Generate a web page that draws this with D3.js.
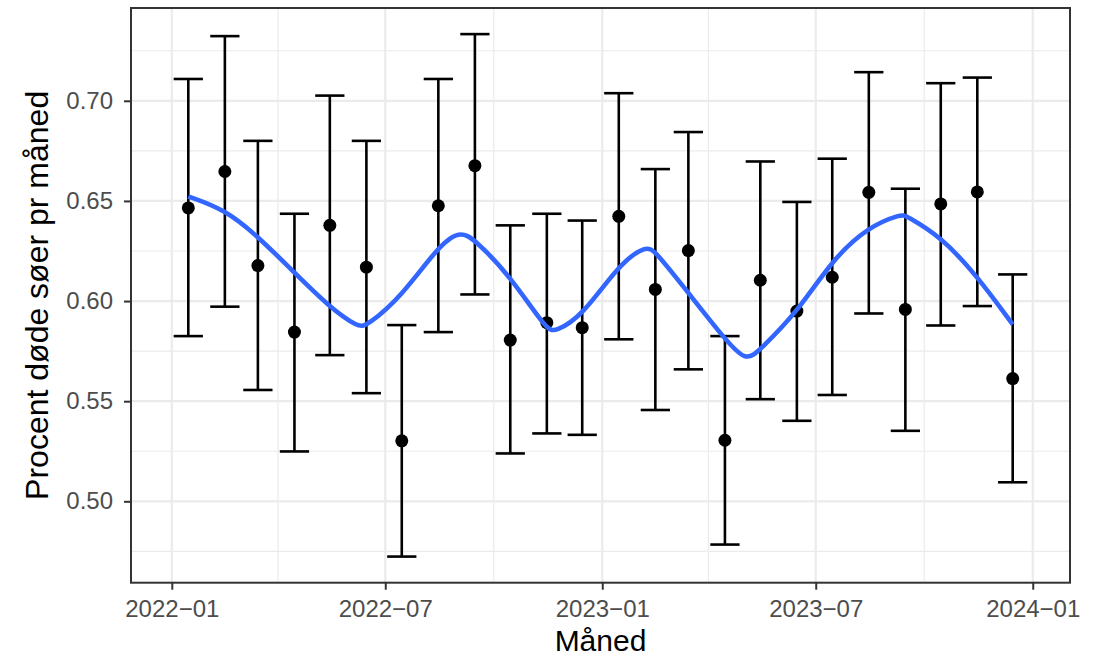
<!DOCTYPE html>
<html>
<head>
<meta charset="utf-8">
<script src="https://d3js.org/d3.v7.min.js"></script>
<style>
	body { margin: 0; background: #fff; }
	text { font-family: "Liberation Sans", Arial, Helvetica, sans-serif; }
</style>
</head>
<body>
<svg id="chart" width="1110" height="656"></svg>
<script>

// måneder (midt i måneden) og andel døde søer med konfidensinterval
var maaneder = ["2022-01-15","2022-02-15","2022-03-15","2022-04-15","2022-05-15","2022-06-15",
	"2022-07-15","2022-08-15","2022-09-15","2022-10-15","2022-11-15","2022-12-15",
	"2023-01-15","2023-02-15","2023-03-15","2023-04-15","2023-05-15","2023-06-15",
	"2023-07-15","2023-08-15","2023-09-15","2023-10-15","2023-11-15","2023-12-15"];
var andel = [0.6465, 0.6647, 0.6177, 0.5845, 0.6378, 0.6169, 0.5302, 0.6476, 0.6676, 0.5805, 0.5892, 0.5867,
	0.6423, 0.6058, 0.6252, 0.5305, 0.6104, 0.5950, 0.6119, 0.6543, 0.5958, 0.6485, 0.6545, 0.5613];
var nedre = [0.5825, 0.5972, 0.5556, 0.5249, 0.5730, 0.5540, 0.4724, 0.5845, 0.6033, 0.5239, 0.5339, 0.5332,
	0.5809, 0.5456, 0.5659, 0.4784, 0.5510, 0.5402, 0.5531, 0.5938, 0.5352, 0.5878, 0.5975, 0.5095];
var ovre = [0.7109, 0.7323, 0.6800, 0.6436, 0.7026, 0.6800, 0.5880, 0.7109, 0.7333, 0.6378, 0.6436, 0.6402,
	0.7038, 0.6659, 0.6844, 0.5825, 0.6697, 0.6495, 0.6711, 0.7143, 0.6561, 0.7088, 0.7116, 0.6133];

// glattet kurve (aflæst)
var glatDatoer = ["2022-01-15","2022-02-15","2022-03-15","2022-04-15","2022-05-15","2022-06-08","2022-06-15",
	"2022-07-15","2022-08-15","2022-09-02","2022-09-15","2022-10-15","2022-11-15","2022-11-22","2022-12-15",
	"2023-01-15","2023-02-07","2023-02-15","2023-03-15","2023-04-15","2023-05-03","2023-05-15","2023-06-15",
	"2023-07-15","2023-08-15","2023-09-12","2023-09-15","2023-10-15","2023-11-15","2023-12-15"];
var glatVaerdier = [0.6522, 0.6457, 0.6323, 0.6142, 0.5968, 0.5870, 0.5874,
	0.6024, 0.6274, 0.6352, 0.6307, 0.6124, 0.5855, 0.5846, 0.5925,
	0.6182, 0.6278, 0.6249, 0.6041, 0.5809, 0.5695, 0.5759, 0.5942,
	0.6207, 0.6373, 0.6434, 0.6427, 0.6323, 0.6124, 0.5883];

// akser
var xTickDatoer = ["2022-01-01","2022-07-01","2023-01-01","2023-07-01","2024-01-01"];
var xTickTekst = ["2022\u221201","2022\u221207","2023\u221201","2023\u221207","2024\u221201"];
var xMinorDatoer = ["2022-04-01","2022-10-01","2023-04-01","2023-10-01"];
var yTicks = [0.50, 0.55, 0.60, 0.65, 0.70];
var yMinor = [0.475, 0.525, 0.575, 0.625, 0.675, 0.725];

var parse = d3.timeParse("%Y-%m-%d");
var data = maaneder.map(function(d, i){
	return {dato: parse(d), p: andel[i], lo: nedre[i], hi: ovre[i]};
});
var glat = glatDatoer.map(function(d, i){ return {dato: parse(d), p: glatVaerdier[i]}; });

var svg = d3.select("#chart");
var panel = {left: 131, right: 1070, top: 8, bottom: 582.7};

// errorbar halv bredde i dage, og 5% udvidelse som i ggplot
var halv = 12.4 * 864e5;
var xLo = +data[0].dato - halv, xHi = +data[data.length-1].dato + halv;
var xPad = (xHi - xLo) * 0.05;
var xScale = d3.scaleTime()
	.domain([new Date(xLo - xPad), new Date(xHi + xPad)])
	.range([panel.left, panel.right]);

var yLo = d3.min(nedre), yHi = d3.max(ovre), yPad = (yHi - yLo) * 0.05;
var yScale = d3.scaleLinear()
	.domain([yLo - yPad, yHi + yPad])
	.range([panel.bottom, panel.top]);

// gitter
var grid = svg.append("g");
grid.selectAll(".ymin").data(yMinor).enter().append("line")
	.attr("x1", panel.left).attr("x2", panel.right)
	.attr("y1", d => yScale(d)).attr("y2", d => yScale(d))
	.attr("stroke", "#ebebeb").attr("stroke-width", 1.2);
grid.selectAll(".xmin").data(xMinorDatoer).enter().append("line")
	.attr("x1", d => xScale(parse(d))).attr("x2", d => xScale(parse(d)))
	.attr("y1", panel.top).attr("y2", panel.bottom)
	.attr("stroke", "#ebebeb").attr("stroke-width", 1.2);
grid.selectAll(".ymaj").data(yTicks).enter().append("line")
	.attr("x1", panel.left).attr("x2", panel.right)
	.attr("y1", d => yScale(d)).attr("y2", d => yScale(d))
	.attr("stroke", "#ebebeb").attr("stroke-width", 2.2);
grid.selectAll(".xmaj").data(xTickDatoer).enter().append("line")
	.attr("x1", d => xScale(parse(d))).attr("x2", d => xScale(parse(d)))
	.attr("y1", panel.top).attr("y2", panel.bottom)
	.attr("stroke", "#ebebeb").attr("stroke-width", 2.2);

// fejllinjer
var bars = svg.append("g").attr("stroke", "#000").attr("stroke-width", 2.6);
bars.selectAll(".v").data(data).enter().append("line")
	.attr("x1", d => xScale(d.dato)).attr("x2", d => xScale(d.dato))
	.attr("y1", d => yScale(d.lo)).attr("y2", d => yScale(d.hi));
bars.selectAll(".top").data(data).enter().append("line")
	.attr("x1", d => xScale(+d.dato - halv)).attr("x2", d => xScale(+d.dato + halv))
	.attr("y1", d => yScale(d.hi)).attr("y2", d => yScale(d.hi));
bars.selectAll(".bund").data(data).enter().append("line")
	.attr("x1", d => xScale(+d.dato - halv)).attr("x2", d => xScale(+d.dato + halv))
	.attr("y1", d => yScale(d.lo)).attr("y2", d => yScale(d.lo));

// punkter
svg.append("g").selectAll("circle").data(data).enter().append("circle")
	.attr("cx", d => xScale(d.dato))
	.attr("cy", d => yScale(d.p))
	.attr("r", 6.5)
	.attr("fill", "#000");

// glattet linje
var linje = d3.line()
	.x(d => xScale(d.dato))
	.y(d => yScale(d.p))
	.curve(d3.curveBasis);
svg.append("path").datum(glat)
	.attr("d", linje)
	.attr("fill", "none")
	.attr("stroke", "#3366ff")
	.attr("stroke-width", 4.6)
	.attr("stroke-linecap", "butt");

// panelramme
svg.append("rect")
	.attr("x", panel.left).attr("y", panel.top)
	.attr("width", panel.right - panel.left).attr("height", panel.bottom - panel.top)
	.attr("fill", "none").attr("stroke", "#333").attr("stroke-width", 2);

// akser
var xAxis = svg.append("g")
	.attr("transform", `translate(0, ${panel.bottom})`)
	.call(d3.axisBottom(xScale)
		.tickValues(xTickDatoer.map(parse))
		.tickFormat((d, i) => xTickTekst[i])
		.tickSize(7).tickPadding(10));
var yAxis = svg.append("g")
	.attr("transform", `translate(${panel.left}, 0)`)
	.call(d3.axisLeft(yScale)
		.tickValues(yTicks)
		.tickFormat(d3.format(".2f"))
		.tickSize(7).tickPadding(11));
[xAxis, yAxis].forEach(function(a){
	a.select(".domain").remove();
	a.selectAll(".tick line").attr("stroke", "#333").attr("stroke-width", 2);
	a.selectAll(".tick text")
		.attr("fill", "#4d4d4d")
		.style("font-size", "24px")
		.style("font-family", "'Liberation Sans', Arial, sans-serif");
});

// aksetitler
svg.append("text")
	.attr("x", (panel.left + panel.right) / 2)
	.attr("y", 651)
	.attr("text-anchor", "middle")
	.style("font-size", "30px")
	.text("Måned");
svg.append("text")
	.attr("transform", `translate(48, ${(panel.top + panel.bottom) / 2}) rotate(-90)`)
	.attr("text-anchor", "middle")
	.style("font-size", "32px")
	.text("Procent døde søer pr måned");

</script>
</body>
</html>
